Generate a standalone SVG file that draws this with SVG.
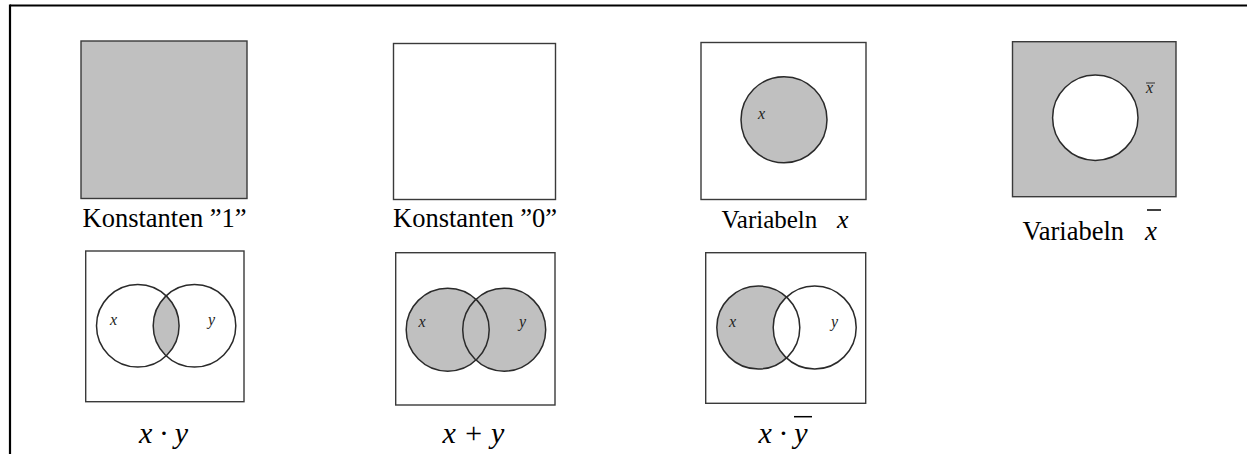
<svg xmlns="http://www.w3.org/2000/svg" width="1247" height="454" viewBox="0 0 1247 454">
<style>
.box{stroke:#3a3a3a;stroke-width:1.4}
.g{fill:#c0c0c0}
.w{fill:#ffffff}
.c{fill:none;stroke:#2a2a2a;stroke-width:1.5}
.lbl{font-family:"Liberation Serif","Times New Roman",serif;font-size:25px;fill:#000}
.m{font-family:"Liberation Serif","Times New Roman",serif;font-style:italic;fill:#000}
.sm{font-family:"Liberation Serif","Times New Roman",serif;font-style:italic;font-size:16px;fill:#222}
.bar{stroke:#000;stroke-width:1.5}
.sbar{stroke:#333;stroke-width:1}
</style>
<defs>
<clipPath id="clipX5"><circle cx="137.8" cy="325.8" r="41.3"/></clipPath>
</defs>
<rect x="0" y="0" width="1247" height="454" fill="#ffffff"/>
<g id="frame">
<line x1="10" y1="5.5" x2="1247" y2="5.5" stroke="#000" stroke-width="2.2"/>
<line x1="10" y1="4.4" x2="10" y2="454" stroke="#000" stroke-width="2.2"/>
</g>
<g id="const1">
<rect class="box g" x="81" y="41" width="166" height="157.5"/>
<text class="lbl" x="82.5" y="227" style="font-size:26.5px">Konstanten ”1”</text>
</g>
<g id="const0">
<rect class="box w" x="393.5" y="43.5" width="162" height="156"/>
<text class="lbl" x="393" y="227" style="font-size:26.5px">Konstanten ”0”</text>
</g>
<g id="varx">
<rect class="box w" x="701" y="42.5" width="165" height="157"/>
<circle class="c" cx="784" cy="119.7" r="43" style="fill:#c0c0c0"/>
<text class="sm" x="758" y="119">x</text>
<text class="lbl" x="721.5" y="228">Variabeln</text>
<text class="m" x="837" y="228" font-size="26">x</text>
</g>
<g id="varnotx">
<rect class="box g" x="1012.5" y="41.7" width="163.5" height="155"/>
<circle class="c" cx="1095.3" cy="117.7" r="42.7" style="fill:#ffffff"/>
<text class="sm" x="1146" y="93">x</text>
<line class="sbar" x1="1146" y1="83" x2="1155" y2="83"/>
<text class="lbl" x="1022.5" y="240" style="font-size:26.5px">Variabeln</text>
<text class="m" x="1145" y="240" font-size="27">x</text>
<line class="bar" x1="1147" y1="210" x2="1161" y2="210"/>
</g>
<g id="and">
<rect class="box w" x="85.7" y="251" width="158.3" height="150.7"/>
<circle cx="194.5" cy="325.8" r="41.3" class="g" clip-path="url(#clipX5)"/>
<circle class="c" cx="137.8" cy="325.8" r="41.3"/>
<circle class="c" cx="194.5" cy="325.8" r="41.3"/>
<text class="sm" x="110" y="325">x</text>
<text class="sm" x="208" y="325">y</text>
<text class="m" x="139" y="443" font-size="30">x · y</text>
</g>
<g id="or">
<rect class="box w" x="395.7" y="252.7" width="159.3" height="152.3"/>
<circle class="g" cx="447.7" cy="329.7" r="41.5"/>
<circle class="g" cx="504.2" cy="329.7" r="41.5"/>
<circle class="c" cx="447.7" cy="329.7" r="41.5"/>
<circle class="c" cx="504.2" cy="329.7" r="41.5"/>
<text class="sm" x="418.5" y="327">x</text>
<text class="sm" x="519" y="327">y</text>
<text class="m" x="442.5" y="443" font-size="30">x + y</text>
</g>
<g id="andnot">
<rect class="box w" x="705.7" y="252.7" width="160" height="150.6"/>
<circle class="g" cx="758.3" cy="327.5" r="41.5"/>
<circle class="w" cx="814.7" cy="327.5" r="41.5"/>
<circle class="c" cx="758.3" cy="327.5" r="41.5"/>
<circle class="c" cx="814.7" cy="327.5" r="41.5"/>
<text class="sm" x="729" y="327">x</text>
<text class="sm" x="831" y="327">y</text>
<text class="m" x="758.5" y="443" font-size="30">x · y</text>
<line class="bar" x1="794" y1="416.7" x2="812" y2="416.7"/>
</g>
</svg>
